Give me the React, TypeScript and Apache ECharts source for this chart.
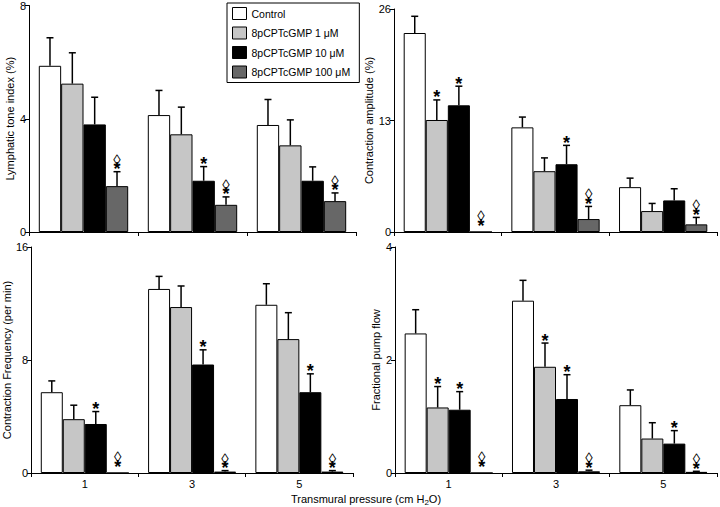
import React, { useEffect, useRef } from "react";
import * as echarts from "echarts";

const FONT = "Liberation Sans, Arial, sans-serif";

const categories = ["1", "3", "5"];
const seriesNames = ["Control", "8pCPTcGMP 1 μM", "8pCPTcGMP 10 μM", "8pCPTcGMP 100 μM"];
const seriesColors = ["#ffffff", "#c6c6c6", "#000000", "#676767"];

// Lymphatic tone index (%)
const toneControl = [5.87, 4.13, 3.78];
const tone1 = [5.24, 3.45, 3.06];
const tone10 = [3.8, 1.81, 1.81];
const tone100 = [1.62, 0.96, 1.09];
const toneSemControl = [0.99, 0.87, 0.9];
const toneSem1 = [1.09, 0.96, 0.9];
const toneSem10 = [0.96, 0.5, 0.49];
const toneSem100 = [0.51, 0.28, 0.29];
const toneSig = [["", "", ""], ["", "", ""], ["", "*", ""], ["◊*", "◊*", "◊*"]];

// Contraction amplitude (%)
const ampControl = [23.2, 12.2, 5.23];
const amp1 = [13.06, 7.09, 2.44];
const amp10 = [14.77, 7.9, 3.68];
const amp100 = [0, 1.51, 0.89];
const ampSemControl = [1.95, 1.2, 1.05];
const ampSem1 = [2.34, 1.55, 0.89];
const ampSem10 = [2.23, 2.2, 1.36];
const ampSem100 = [0, 1.47, 0.81];
const ampSig = [["", "", ""], ["*", "", ""], ["*", "*", ""], ["◊*", "◊*", "◊*"]];

// Contraction frequency (per min)
const freqControl = [5.72, 13.03, 11.91];
const freq1 = [3.81, 11.75, 9.48];
const freq10 = [3.47, 7.68, 5.72];
const freq100 = [0, 0.1, 0.1];
const freqSemControl = [0.8, 0.89, 1.49];
const freqSem1 = [0.99, 1.49, 1.87];
const freqSem10 = [0.88, 1.04, 1.3];
const freqSem100 = [0, 0.07, 0.07];
const freqSig = [["", "", ""], ["", "", ""], ["*", "*", "*"], ["◊*", "◊*", "◊*"]];

// Fractional pump flow
const flowControl = [2.47, 3.05, 1.2];
const flow1 = [1.16, 1.88, 0.61];
const flow10 = [1.12, 1.31, 0.52];
const flow100 = [0, 0.03, 0.02];
const flowSemControl = [0.42, 0.36, 0.27];
const flowSem1 = [0.37, 0.42, 0.28];
const flowSem10 = [0.32, 0.43, 0.23];
const flowSem100 = [0, 0.02, 0.01];
const flowSig = [["", "", ""], ["*", "*", ""], ["*", "*", "*"], ["◊*", "◊*", "◊*"]];

const yNames = ["Lymphatic tone index (%)", "Contraction amplitude (%)", "Contraction Frequency (per min)", "Fractional pump flow"];
const yMax = [8, 26, 16, 4];
const yInterval = [4, 13, 8, 2];

const panels = [
  { means: [toneControl, tone1, tone10, tone100], sems: [toneSemControl, toneSem1, toneSem10, toneSem100], sig: toneSig },
  { means: [ampControl, amp1, amp10, amp100], sems: [ampSemControl, ampSem1, ampSem10, ampSem100], sig: ampSig },
  { means: [freqControl, freq1, freq10, freq100], sems: [freqSemControl, freqSem1, freqSem10, freqSem100], sig: freqSig },
  { means: [flowControl, flow1, flow10, flow100], sems: [flowSemControl, flowSem1, flowSem10, flowSem100], sig: flowSig },
];

const GAP = 0.18;
const grids = [
  { left: 29, top: 5, width: 327, height: 227 },
  { left: 394, top: 9, width: 323, height: 223 },
  { left: 29, top: 247, width: 324, height: 226 },
  { left: 395, top: 247, width: 322, height: 226 },
];
const nameGaps = [12, 14, 15, 13];

function makeRenderItem(sig: string[][]) {
  return (params: any, api: any) => {
    const cat = api.value(0);
    const val = api.value(1);
    const top = api.value(2);
    const si = api.value(3);
    const p0 = api.coord([cat, val]);
    const pTop = api.coord([cat, top]);
    const band = api.size([1, 0])[0];
    const total = band * (1 - GAP);
    const bw = total / 4;
    const x = p0[0] - total / 2 + (si + 0.5) * bw;
    const children: any[] = [];
    if (top > val) {
      children.push({ type: "line", shape: { x1: x, y1: p0[1], x2: x, y2: pTop[1] }, style: { stroke: "#000", lineWidth: 1.5 } });
      children.push({ type: "line", shape: { x1: x - 3.5, y1: pTop[1], x2: x + 3.5, y2: pTop[1] }, style: { stroke: "#000", lineWidth: 1.5 } });
    }
    const s = sig[si][cat];
    const yRef = top > val ? pTop[1] : p0[1] - 4;
    if (s) {
      const txt = s.indexOf("◊") >= 0 ? "{d|◊}\n{s|*}" : "{s|*}";
      children.push({
        type: "text",
        x,
        y: yRef + 2,
        style: {
          text: txt,
          align: "center",
          verticalAlign: "bottom",
          fill: "#000",
          rich: {
            d: { fontSize: 15, lineHeight: 11, fontFamily: FONT, fill: "#000", align: "center" },
            s: { fontSize: 18, lineHeight: 9, fontWeight: "bold", fontFamily: FONT, fill: "#000", align: "center" },
          },
        },
      });
    }
    return { type: "group", children };
  };
}

export default function App() {
  const ref = useRef<HTMLDivElement>(null);
  useEffect(() => {
    if (!ref.current) return;
    const chart = echarts.init(ref.current, null, { renderer: "svg" });
    const xAxis = grids.map((_, i) => ({
      type: "category",
      gridIndex: i,
      data: categories,
      axisLine: { lineStyle: { color: "#000", width: 1 } },
      axisTick: { show: true, length: 4, lineStyle: { color: "#000" } },
      axisLabel: { show: i >= 2, color: "#000", fontSize: 11, fontFamily: FONT, margin: 5 },
    }));
    const yAxis = grids.map((_, i) => ({
      type: "value",
      gridIndex: i,
      min: 0,
      max: yMax[i],
      interval: yInterval[i],
      name: yNames[i],
      nameLocation: "middle",
      nameGap: nameGaps[i],
      nameTextStyle: { color: "#000", fontSize: 11, fontFamily: FONT },
      splitLine: { show: false },
      axisLine: { show: true, lineStyle: { color: "#000", width: 1 } },
      axisTick: { show: true, length: 4, lineStyle: { color: "#000" } },
      axisLabel: { color: "#000", fontSize: 11, fontFamily: FONT, margin: 3 },
    }));
    const series: any[] = [];
    panels.forEach((p, gi) => {
      seriesNames.forEach((name, si) => {
        series.push({
          type: "bar",
          name,
          xAxisIndex: gi,
          yAxisIndex: gi,
          data: p.means[si],
          barGap: "0%",
          barCategoryGap: GAP * 100 + "%",
          itemStyle: { color: seriesColors[si], borderColor: "#000", borderWidth: 1 },
        });
      });
      const errData: number[][] = [];
      seriesNames.forEach((_, si) => {
        categories.forEach((__, ci) => {
          const m = p.means[si][ci];
          errData.push([ci, m, m + p.sems[si][ci], si]);
        });
      });
      series.push({
        type: "custom",
        name: "err" + gi,
        xAxisIndex: gi,
        yAxisIndex: gi,
        data: errData,
        encode: { x: 0, y: [1, 2] },
        renderItem: makeRenderItem(p.sig),
        z: 5,
      });
    });
    chart.setOption({
      animation: false,
      backgroundColor: "#fff",
      grid: grids,
      xAxis,
      yAxis,
      legend: {
        orient: "vertical",
        left: 227,
        top: 3,
        padding: [4, 9, 4, 5],
        itemGap: 6.5,
        itemWidth: 14,
        itemHeight: 12,
        borderColor: "#000",
        borderWidth: 1,
        backgroundColor: "#fff",
        selectedMode: false,
        textStyle: { color: "#000", fontSize: 10.5, fontFamily: FONT },
        data: seriesNames.map((n, i) => ({
          name: n,
          icon: "rect",
          itemStyle: { color: seriesColors[i], borderColor: "#000", borderWidth: 1 },
        })),
      },
      graphic: [
        {
          type: "text",
          x: 366,
          y: 499,
          style: {
            text: "{a|Transmural pressure (cm H}{s|2}{a|O)}",
            align: "center",
            verticalAlign: "middle",
            fill: "#000",
            rich: {
              a: { fontSize: 11, fontFamily: FONT, fill: "#000" },
              s: { fontSize: 8, fontFamily: FONT, fill: "#000", padding: [6, 0, 0, 0] },
            },
          },
        },
      ],
      series,
    });
    return () => chart.dispose();
  }, []);
  return <div ref={ref} style={{ position: "fixed", left: 0, top: 0, width: 720, height: 507 }} />;
}
